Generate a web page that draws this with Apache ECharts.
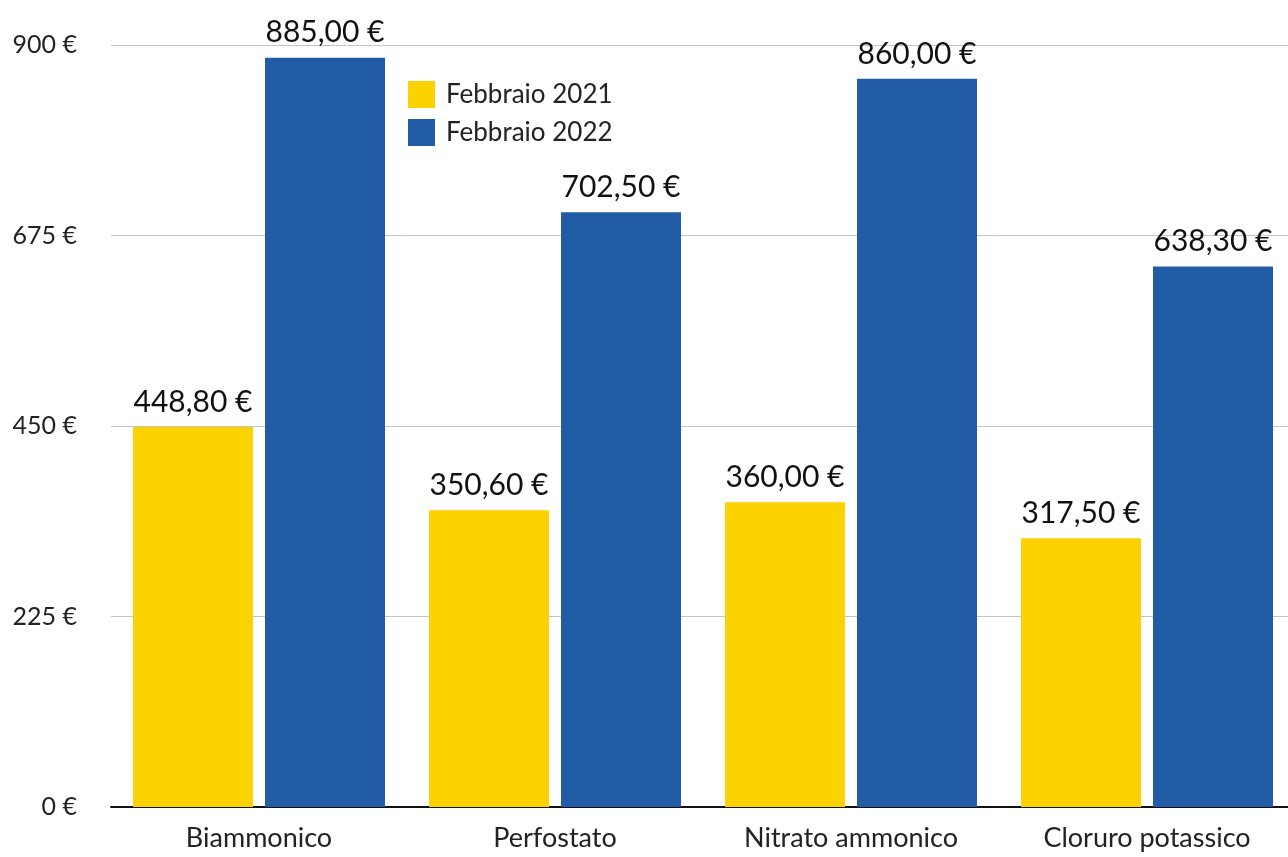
<!DOCTYPE html>
<html>
<head>
<meta charset="utf-8">
<script src="https://cdn.jsdelivr.net/npm/echarts@6/dist/echarts.min.js"></script>
<style>
  html, body { margin: 0; padding: 0; background: #fff; }
  #chart { width: 1288px; height: 857px; }
</style>
</head>
<body>
<div id="chart"></div>
<script>
const categories = ['Biammonico', 'Perfostato', 'Nitrato ammonico', 'Cloruro potassico'];
const feb2021 = [448.8, 350.6, 360.0, 317.5];
const feb2022 = [885.0, 702.5, 860.0, 638.3];
const seriesNames = ['Febbraio 2021', 'Febbraio 2022'];

const font = 'Lato, "Noto Sans", sans-serif';
const fmtEuro = v => v.toFixed(2).replace('.', ',') + ' €';

let chart = echarts.init(document.getElementById('chart'));
chart.setOption({
  animation: false,
  textStyle: { fontFamily: font },
  legend: {
    orient: 'vertical',
    left: 403,
    top: 76,
    itemWidth: 27,
    itemHeight: 27,
    itemGap: 11,
    icon: 'rect',
    data: seriesNames,
    textStyle: { fontSize: 26, color: '#222', fontFamily: font, padding: [0, 0, 0, 6] }
  },
  // plot area runs a little past the right edge, like the original
  grid: { left: 111, width: 1184, top: 45, bottom: 50, outerBoundsMode: 'none', containLabel: false },
  xAxis: {
    type: 'category', data: categories,
    axisLine: { lineStyle: { color: '#111', width: 2 } },
    axisTick: { show: false },
    axisLabel: { fontSize: 27, color: '#222', margin: 18, fontFamily: font }
  },
  yAxis: {
    type: 'value', min: 0, max: 900, interval: 225,
    axisLabel: { formatter: v => v + ' €', fontSize: 25, color: '#222', margin: 34, fontFamily: font },
    splitLine: { lineStyle: { color: '#c4c4c4', width: 1 } },
    axisLine: { show: false }, axisTick: { show: false }
  },
  series: [
    {
      name: seriesNames[0], type: 'bar',
      data: feb2021, barWidth: 120, barGap: '10%',
      itemStyle: { color: '#FCD200' },
      label: { show: true, position: 'top', distance: 10, fontSize: 30, color: '#111', fontFamily: font, formatter: p => fmtEuro(p.value) }
    },
    {
      name: seriesNames[1], type: 'bar',
      data: feb2022, barWidth: 120, barGap: '10%',
      itemStyle: { color: '#225BA6' },
      label: { show: true, position: 'top', distance: 10, fontSize: 30, color: '#111', fontFamily: font, formatter: p => fmtEuro(p.value) }
    }
  ]
});
</script>
</body>
</html>
